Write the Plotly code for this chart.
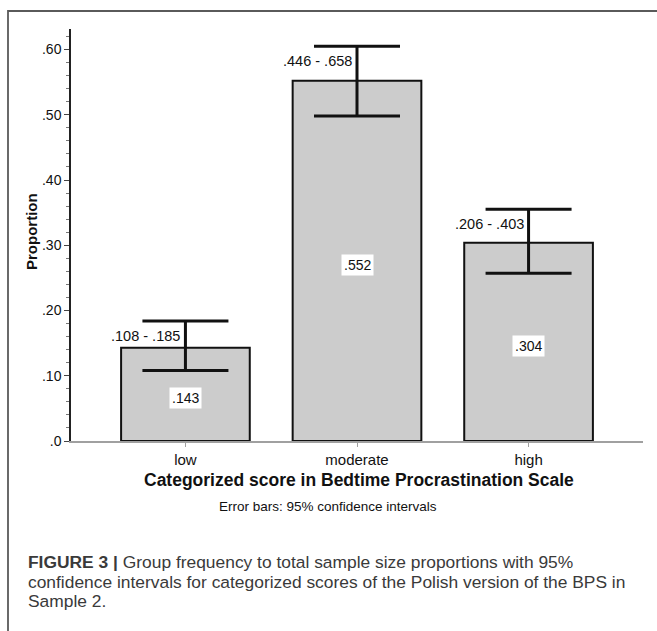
import plotly.graph_objects as go

# ---- data ----
categories = ["low", "moderate", "high"]
proportions = [0.143, 0.552, 0.304]
ci_lower_drawn = [0.108, 0.498, 0.257]
ci_upper_drawn = [0.184, 0.605, 0.355]
ci_label_lo = [0.108, 0.446, 0.206]
ci_label_hi = [0.185, 0.658, 0.403]
y_tickvals = [0.0, 0.1, 0.2, 0.3, 0.4, 0.5, 0.6]
y_ticktext = [".0", ".10", ".20", ".30", ".40", ".50", ".60"]

# ---- layout geometry (pixels) ----
W, H = 657, 631
L, R, T, B = 71, 643, 29, 441
PW, PH = R - L, B - T
PX_PER_UNIT = 652.5

def px_x(p):
    return (p - L) / PW

def px_y(p):
    return (B - p) / PH

def fmt(v):
    return "." + f"{int(round(v * 1000)):03d}"

xs = list(range(len(categories)))
err_plus = [u - p for u, p in zip(ci_upper_drawn, proportions)]
err_minus = [p - l for l, p in zip(ci_lower_drawn, proportions)]

FONT = "Liberation Sans, Arial, sans-serif"

fig = go.Figure()
fig.add_trace(go.Bar(
    x=xs, y=proportions, width=0.75,
    marker=dict(color="#cccccc", line=dict(color="#111111", width=2)),
    error_y=dict(type="data", symmetric=False, array=err_plus, arrayminus=err_minus,
                 color="#111111", thickness=3, width=43),
    hoverinfo="skip",
))

annotations = []
# value labels in white boxes
for x, p in zip(xs, proportions):
    annotations.append(dict(
        x=x, y=p / 2, xref="x", yref="y", text=fmt(p), showarrow=False,
        yshift=-4, bgcolor="white", borderpad=2,
        font=dict(family=FONT, size=14, color="#111111"),
    ))
# CI labels
for x, u, lo, hi in zip(xs, ci_upper_drawn, ci_label_lo, ci_label_hi):
    annotations.append(dict(
        x=x, y=u, xref="x", yref="y", text=f"{fmt(lo)} - {fmt(hi)}", showarrow=False,
        xanchor="right", yanchor="middle", xshift=-3, yshift=-15,
        font=dict(family=FONT, size=14.5, color="#111111"),
    ))
# axis titles and notes
annotations.append(dict(
    x=px_x(359), y=px_y(480), xref="paper", yref="paper", showarrow=False,
    text="<b>Categorized score in Bedtime Procrastination Scale</b>",
    xanchor="center", yanchor="middle",
    font=dict(family=FONT, size=17.5, color="#111111"),
))
annotations.append(dict(
    x=px_x(328), y=px_y(507), xref="paper", yref="paper", showarrow=False,
    text="Error bars: 95% confidence intervals",
    xanchor="center", yanchor="middle",
    font=dict(family=FONT, size=13.5, color="#111111"),
))
annotations.append(dict(
    x=px_x(31), y=px_y(232), xref="paper", yref="paper", showarrow=False,
    text="<b>Proportion</b>", textangle=-90,
    xanchor="center", yanchor="middle",
    font=dict(family=FONT, size=15, color="#111111"),
))
# caption
caption_lines = [
    "<b>FIGURE 3 |</b> Group frequency to total sample size proportions with 95%",
    "confidence intervals for categorized scores of the Polish version of the BPS in",
    "Sample 2.",
]
for i, line in enumerate(caption_lines):
    annotations.append(dict(
        x=px_x(26), y=px_y(562 + 19.5 * i), xref="paper", yref="paper", showarrow=False,
        text=line, xanchor="left", yanchor="middle",
        font=dict(family=FONT, size=17.4, color="#3a3a3a"),
    ))

fig.update_layout(
    width=W, height=H,
    margin=dict(l=L, r=W - R, t=T, b=H - B, pad=0),
    paper_bgcolor="white", plot_bgcolor="white",
    showlegend=False,
    annotations=annotations,
    shapes=[dict(
        type="rect", xref="paper", yref="paper",
        x0=px_x(8), x1=px_x(680), y0=px_y(650), y1=px_y(11),
        line=dict(color="#5a5a5a", width=1.8), fillcolor="rgba(0,0,0,0)",
    )],
    xaxis=dict(
        range=[-0.667, 2.667], tickvals=xs, ticktext=categories,
        showline=True, linecolor="#a0a0a0", linewidth=1.5,
        ticks="outside", ticklen=4, tickcolor="#a0a0a0", tickwidth=1,
        showgrid=False, zeroline=False, fixedrange=True,
        tickfont=dict(family=FONT, size=15, color="#111111"),
    ),
    yaxis=dict(
        range=[0, PH / PX_PER_UNIT], tickvals=y_tickvals, ticktext=y_ticktext,
        showline=True, linecolor="#222222", linewidth=1.5,
        ticks="outside", ticklen=5, tickcolor="#444444", tickwidth=1,
        minor=dict(dtick=0.02, ticks="outside", ticklen=3, tickcolor="#777777", tickwidth=1),
        showgrid=False, zeroline=False, fixedrange=True,
        tickfont=dict(family=FONT, size=14, color="#111111"),
    ),
)

fig.write_html("out.html")
